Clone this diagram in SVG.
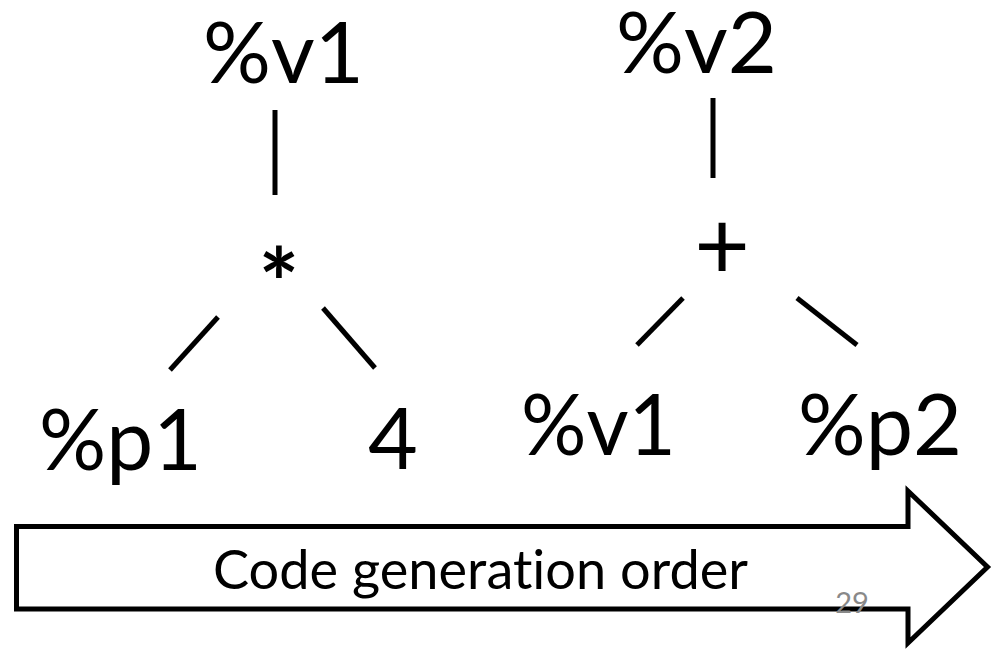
<svg xmlns="http://www.w3.org/2000/svg" width="1001" height="651" viewBox="0 0 1001 651">
  <style>
    text { font-variant-ligatures: none; }
    .lbl { font-family: Lato, "Liberation Sans", sans-serif; font-size: 86px; fill: #000; }
    .op { font-family: Lato, "Liberation Sans", sans-serif; font-size: 96px; fill: #000; }
    .edge { stroke: #000; stroke-width: 5; fill: none; stroke-linecap: butt; }
    .cap { font-family: Lato, "Liberation Sans", sans-serif; font-size: 54px; fill: #000; }
    .num { font-family: Lato, "Liberation Sans", sans-serif; font-size: 29px; fill: #898989; }
  </style>
  <rect x="0" y="0" width="1001" height="651" fill="#fff"/>

  <g id="arrow">
    <polygon points="16.5,526.5 908,526.5 908,491 987.5,567 908,643 908,609 16.5,609" fill="#fff" stroke="#000" stroke-width="5" stroke-linejoin="miter"/>
    <text class="cap" x="213" y="589" textLength="535" lengthAdjust="spacingAndGlyphs">Code generation order</text>
  </g>

  <g id="connectors">
    <line class="edge" x1="275" y1="110" x2="275" y2="195"/>
    <line class="edge" x1="218" y1="317" x2="170" y2="370"/>
    <line class="edge" x1="323" y1="308" x2="375" y2="368"/>
    <line class="edge" x1="713" y1="98" x2="713" y2="178"/>
    <line class="edge" x1="683" y1="298" x2="637" y2="345"/>
    <line class="edge" x1="797" y1="298" x2="857" y2="345"/>
  </g>

  <g id="node-v1-top"><text class="lbl" x="203" y="83" textLength="161" lengthAdjust="spacingAndGlyphs">%v1</text></g>
  <g id="node-mul"><text class="op" x="279" y="318" text-anchor="middle" font-weight="700" font-size="100">*</text></g>
  <g id="node-p1"><text class="lbl" x="39" y="470" textLength="163" lengthAdjust="spacingAndGlyphs">%p1</text></g>
  <g id="node-4"><text class="lbl" x="393" y="469" text-anchor="middle">4</text></g>
  <g id="node-v2"><text class="lbl" x="616" y="73" textLength="161" lengthAdjust="spacingAndGlyphs">%v2</text></g>
  <g id="node-add"><text class="op" x="722" y="279" text-anchor="middle">+</text></g>
  <g id="node-v1-bottom"><text class="lbl" x="521" y="455" textLength="155" lengthAdjust="spacingAndGlyphs">%v1</text></g>
  <g id="node-p2"><text class="lbl" x="798" y="455" textLength="164" lengthAdjust="spacingAndGlyphs">%p2</text></g>

  <g id="page-number"><text class="num" x="852" y="613" text-anchor="middle">29</text></g>
</svg>
